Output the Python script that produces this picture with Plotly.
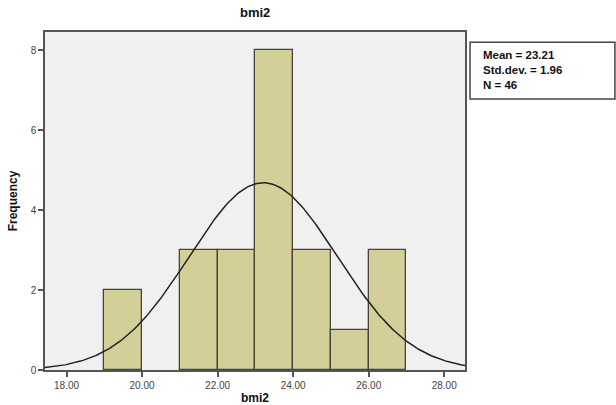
import numpy as np
import plotly.graph_objects as go

# Data
bin_left = [19, 20, 21, 22, 23, 24, 25, 26]
counts = [2, 0, 3, 3, 8, 3, 1, 3]
bin_width = 1.0
mean_val = 23.21
sd_val = 1.96
n_val = 46
x_ticks = [18, 20, 22, 24, 26, 28]
y_ticks = [0, 2, 4, 6, 8]

x_range = [17.43, 28.55]
y_range = [0, 8.45]

centers = [b + bin_width / 2 for b in bin_left]
bar_x = [c for c, n in zip(centers, counts) if n > 0]
bar_y = [n for n in counts if n > 0]

# Fitted normal curve scaled to the histogram area
xs = np.linspace(x_range[0], x_range[1], 300)
area = sum(counts) * bin_width
ys = area / (sd_val * np.sqrt(2 * np.pi)) * np.exp(-0.5 * ((xs - mean_val) / sd_val) ** 2)

fig = go.Figure()
fig.add_trace(go.Bar(
    x=bar_x, y=bar_y, width=bin_width,
    marker=dict(color="#d3cf98", line=dict(color="#45453c", width=1.3)),
    hoverinfo="skip",
))
fig.add_trace(go.Scatter(
    x=xs, y=ys, mode="lines",
    line=dict(color="#222222", width=1.5),
    hoverinfo="skip",
))

axis_font = dict(family="Liberation Sans, Arial, sans-serif", size=10, color="#444444")

fig.update_layout(
    width=616, height=405,
    margin=dict(l=45, r=151, t=32, b=35),
    paper_bgcolor="white",
    plot_bgcolor="#f0f0f0",
    showlegend=False,
    bargap=0,
    xaxis=dict(
        range=x_range, tickvals=x_ticks, ticktext=[f"{v:.2f}" for v in x_ticks],
        showgrid=False, zeroline=False, automargin=False,
        showline=True, linecolor="#555555", linewidth=1.5, mirror=True,
        ticks="outside", ticklen=5, tickcolor="#555555", tickwidth=1.5,
        tickfont=axis_font,
        title=dict(text="<b>bmi2</b>", font=dict(family="Liberation Sans, Arial, sans-serif", size=12, color="#111111"), standoff=6),
    ),
    yaxis=dict(
        range=y_range, tickvals=y_ticks,
        showgrid=False, zeroline=False, automargin=False,
        showline=True, linecolor="#555555", linewidth=1.5, mirror=True,
        ticks="outside", ticklen=5, tickcolor="#555555", tickwidth=1.5,
        tickfont=axis_font,
        title=dict(text="<b>Frequency</b>", font=dict(family="Liberation Sans, Arial, sans-serif", size=12, color="#111111"), standoff=10),
    ),
    annotations=[
        dict(text="<b>bmi2</b>", xref="paper", yref="paper", x=0.5, y=1.0, yshift=20,
             xanchor="center", yanchor="middle", showarrow=False,
             font=dict(family="Liberation Sans, Arial, sans-serif", size=13, color="#111111")),
        dict(text=f"<b>Mean = {mean_val:.2f}<br>Std.dev. = {sd_val:.2f}<br>N = {n_val}</b>",
             xref="paper", yref="paper", x=1.038, y=0.955, xanchor="left", yanchor="top",
             align="left", showarrow=False,
             font=dict(family="Liberation Sans, Arial, sans-serif", size=11.5, color="#111111")),
    ],
    shapes=[
        dict(type="rect", xref="paper", yref="paper", x0=1.012, x1=1.357, y0=0.802, y1=0.970,
             line=dict(color="#444444", width=1.5), fillcolor="white"),
    ],
)

fig.write_html("out.html", config={"displayModeBar": False},
               post_script="document.body.style.margin='0';")
